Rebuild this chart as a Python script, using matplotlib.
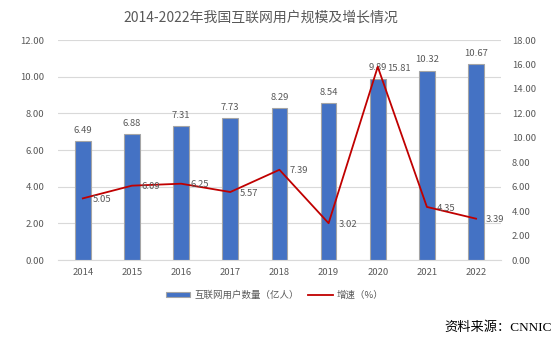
import matplotlib.pyplot as plt
import numpy as np

plt.rcParams['font.family'] = ['Noto Sans CJK SC', 'DejaVu Sans']

years = ['2014', '2015', '2016', '2017', '2018', '2019', '2020', '2021', '2022']
users = [6.49, 6.88, 7.31, 7.73, 8.29, 8.54, 9.89, 10.32, 10.67]   # 亿人
growth = [5.05, 6.09, 6.25, 5.57, 7.39, 3.02, 15.81, 4.35, 3.39]   # %

GRAY = '#595959'
BLUE = '#4472C4'
RED = '#C00000'

fig = plt.figure(figsize=(5.6, 3.45), dpi=100)
ax = fig.add_axes([0.104, 0.246, 0.79, 0.638])
ax2 = ax.twinx()

x = np.arange(len(years))
ax.bar(x, users, width=0.32, color=BLUE, edgecolor='#A5A5A5', linewidth=0.8,
       zorder=2, label='互联网用户数量（亿人）')
for xi, v in zip(x, users):
    ax.text(xi, v + 0.35, f'{v:.2f}', ha='center', va='bottom',
            fontsize=6.8, color=GRAY)

ax2.plot(x, growth, color=RED, linewidth=1.3, zorder=3, label='增速（%）')
for xi, v in zip(x, growth):
    ax2.text(xi + 0.2, v - 0.1, f'{v:.2f}', ha='left', va='center',
             fontsize=6.8, color=GRAY)

ax.set_xlim(-0.5, len(years) - 0.5)
ax.set_ylim(0, 12)
ax.set_yticks(np.arange(0, 12.1, 2))
ax.set_yticklabels([f'{t:.2f}' for t in np.arange(0, 12.1, 2)])
ax2.set_ylim(0, 18)
ax2.set_yticks(np.arange(0, 18.1, 2))
ax2.set_yticklabels([f'{t:.2f}' for t in np.arange(0, 18.1, 2)])
ax.set_xticks(x)
ax.set_xticklabels(years)

ax.grid(axis='y', color='#D9D9D9', linewidth=0.8, zorder=0)
ax.set_axisbelow(True)
for a in (ax, ax2):
    for s in a.spines.values():
        s.set_visible(False)
    a.tick_params(length=0, labelsize=6.8, labelcolor=GRAY)
ax.spines['bottom'].set_visible(True)
ax.spines['bottom'].set_color('#D9D9D9')
ax.tick_params(axis='y', pad=10)
ax2.tick_params(axis='y', pad=8)
ax.tick_params(axis='x', pad=6)

fig.text(0.466, 0.95, '2014-2022年我国互联网用户规模及增长情况', ha='center',
         va='center', fontsize=10, color=GRAY)

h1, l1 = ax.get_legend_handles_labels()
h2, l2 = ax2.get_legend_handles_labels()
fig.legend(h1 + h2, l1 + l2, loc='center', bbox_to_anchor=(0.49, 0.145),
           ncol=2, frameon=False, fontsize=6.8, labelcolor=GRAY,
           handlelength=2.6, handleheight=0.5, columnspacing=1.0,
           handletextpad=0.4)

fig.text(0.985, 0.05, '资料来源：CNNIC', ha='right', va='center',
         fontsize=9.5, color='black',
         family=['Liberation Serif', 'Noto Sans CJK SC'])

fig.savefig('out.png', dpi=100)
